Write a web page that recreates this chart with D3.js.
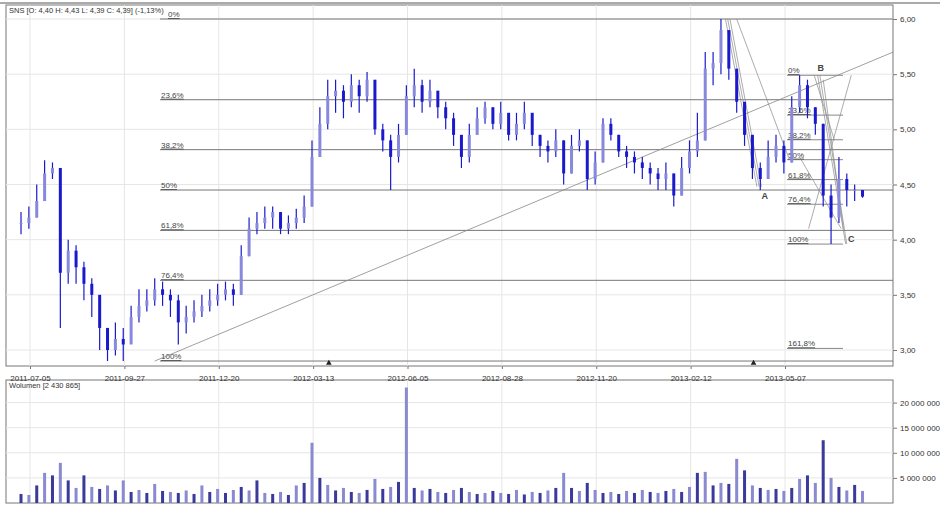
<!DOCTYPE html><html><head><meta charset="utf-8">
<script src="https://cdn.jsdelivr.net/npm/d3@7"></script>
<style>body{margin:0;background:#fff}svg{font-family:"Liberation Sans",Arial,sans-serif}</style></head><body>
<svg id="c" width="940" height="507"></svg>
<script>
const startDate="2011-06-27";
const closes=[4.15,4.20,4.35,4.60,4.65,3.70,3.90,3.75,3.60,3.50,3.20,3.00,3.10,3.05,3.30,3.40,3.45,3.55,3.50,3.45,3.25,3.30,3.35,3.40,3.45,3.50,3.55,3.50,3.85,4.10,4.15,4.20,4.25,4.10,4.15,4.20,4.30,4.75,5.05,5.30,5.35,5.25,5.40,5.30,5.45,5.00,4.90,4.75,4.95,5.30,5.40,5.25,5.35,5.20,5.10,4.95,4.75,4.95,5.10,5.20,5.05,5.15,4.95,5.05,5.15,4.95,4.85,4.80,4.90,4.60,4.85,4.90,4.55,4.70,5.05,4.95,4.80,4.75,4.70,4.65,4.60,4.55,4.60,4.40,4.65,4.80,4.90,5.55,5.60,5.90,5.55,5.25,4.95,4.65,4.55,4.75,4.85,4.70,5.20,5.40,5.20,5.05,4.40,4.20,4.55,4.45,4.45,4.39];
const highs=[4.25,4.30,4.50,4.72,4.70,4.40,4.00,3.95,3.80,3.65,3.45,3.20,3.25,3.20,3.40,3.55,3.55,3.65,3.62,3.55,3.50,3.40,3.45,3.50,3.55,3.60,3.62,3.60,3.95,4.20,4.25,4.30,4.30,4.25,4.22,4.28,4.40,4.90,5.20,5.45,5.45,5.40,5.50,5.45,5.52,5.40,5.05,4.95,5.05,5.40,5.55,5.45,5.45,5.35,5.25,5.15,4.95,5.05,5.20,5.25,5.20,5.25,5.10,5.15,5.25,5.10,4.95,4.90,5.00,4.90,4.95,5.00,4.90,4.80,5.10,5.10,4.95,4.85,4.80,4.75,4.70,4.65,4.70,4.60,4.75,4.90,5.15,5.70,5.70,6.00,5.80,5.40,5.15,4.95,4.70,4.90,4.95,4.90,5.30,5.49,5.45,5.20,5.05,4.50,4.75,4.60,4.50,4.45];
const lows=[4.05,4.10,4.20,4.45,4.55,3.20,3.60,3.60,3.45,3.30,3.00,2.90,2.95,2.90,3.10,3.25,3.35,3.40,3.40,3.30,3.05,3.15,3.25,3.30,3.35,3.40,3.45,3.40,3.50,3.85,4.05,4.10,4.10,4.05,4.05,4.10,4.15,4.30,4.75,5.00,5.15,5.10,5.20,5.15,5.25,4.95,4.80,4.45,4.70,4.95,5.20,5.15,5.20,5.10,5.00,4.85,4.65,4.70,4.95,5.05,5.00,5.00,4.90,4.90,5.00,4.85,4.75,4.70,4.75,4.50,4.60,4.80,4.45,4.50,4.70,4.90,4.75,4.65,4.60,4.55,4.50,4.45,4.45,4.30,4.40,4.60,4.75,4.90,5.40,5.50,5.45,5.15,4.85,4.55,4.45,4.55,4.70,4.60,4.70,5.15,5.10,4.95,4.30,3.96,4.15,4.30,4.35,4.38];
const volumes=[1.8,1.6,3.5,6.0,5.5,8.0,4.5,3.0,5.5,3.2,2.8,3.5,2.5,4.5,2.2,2.6,2.0,3.8,2.4,2.2,2.0,2.5,1.8,3.5,2.2,2.8,2.0,2.6,3.2,2.5,4.5,2.0,1.8,2.2,1.6,3.5,4.0,12.0,5.0,3.6,2.5,3.0,2.2,2.0,2.6,4.8,2.8,3.2,4.2,23.0,3.0,2.5,2.8,2.2,2.0,2.6,3.0,2.2,1.8,2.0,2.4,2.0,1.8,2.6,1.7,2.2,2.0,2.5,3.0,6.0,3.0,2.4,4.0,2.6,2.0,2.2,1.8,2.4,2.0,2.6,2.2,2.0,2.4,2.8,2.2,3.2,6.0,6.2,3.5,4.0,3.8,8.8,6.5,3.5,3.0,2.6,2.8,2.4,3.0,4.8,5.5,4.0,12.5,5.0,3.2,2.5,3.6,2.4];
const priceTicks=[3.00,3.50,4.00,4.50,5.00,5.50,6.00];
const volTicks=[5e6,10e6,15e6,20e6];
const dateTicks=["2011-07-05","2011-09-27","2011-12-20","2012-03-13","2012-06-05","2012-08-28","2012-11-20","2013-02-12","2013-05-07"];
const fibLevels=[0,23.6,38.2,50,61.8,76.4,100];
const fibHigh=6.00, fibLow=2.90;
const fib2Levels=[0,23.6,38.2,50,61.8,76.4,100,161.8];
const fib2High=5.49, fib2Low=3.96;

const svg=d3.select("#c");
const L=6,R=893,T=5,B=366,VT=380,VB=503;
const pd=d3.timeParse("%Y-%m-%d");
const x=d3.scaleTime().domain([pd("2011-07-05"),pd("2013-05-07")]).range([30,785]);
const y=d3.scaleLinear().domain([2.855,6.127]).range([B,T]);
const yv=d3.scaleLinear().domain([0,24.5e6]).range([VB,VT]);
const s0=pd(startDate);
const dates=closes.map((c,i)=>d3.timeDay.offset(s0,7*i));
const fmt=d=>d3.format(".2f")(d).replace(".",",");
const fmtV=d=>d3.format(",")(d).replace(/,/g," ");
[[T,B],[VT,VB]].forEach(([a,b])=>svg.append("rect").attr("x",L).attr("y",a).attr("width",R-L).attr("height",b-a).attr("fill","#fff").attr("stroke","#777"));
svg.append("line").attr("x1",0).attr("x2",940).attr("y1",3).attr("y2",3).attr("stroke","#aaa").attr("stroke-width",2);
const g=svg.append("g").attr("stroke","#e6e6e6");
dateTicks.forEach(d=>{const xx=x(pd(d));g.append("line").attr("x1",xx).attr("x2",xx).attr("y1",T).attr("y2",B);g.append("line").attr("x1",xx).attr("x2",xx).attr("y1",VT).attr("y2",VB);});
priceTicks.forEach(p=>g.append("line").attr("x1",L).attr("x2",R).attr("y1",y(p)).attr("y2",y(p)));
volTicks.forEach(v=>g.append("line").attr("x1",L).attr("x2",R).attr("y1",yv(v)).attr("y2",yv(v)));
const ya=svg.append("g").attr("transform",`translate(${R},0)`).call(d3.axisRight(y).tickValues(priceTicks).tickFormat(fmt).tickSize(4));
const va=svg.append("g").attr("transform",`translate(${R},0)`).call(d3.axisRight(yv).tickValues(volTicks).tickFormat(fmtV).tickSize(4));
const xa=svg.append("g").attr("transform",`translate(0,${B})`).call(d3.axisBottom(x).tickValues(dateTicks.map(pd)).tickFormat(d3.timeFormat("%Y-%m-%d")).tickSize(3));
[ya,va,xa].forEach(a=>{a.select(".domain").remove();a.selectAll("text").attr("font-size",8).attr("fill","#333");a.selectAll("line").attr("stroke","#777");});
xa.selectAll("text").attr("dy","1.1em");
const fl=svg.append("g");
fibLevels.forEach(p=>{const v=fibHigh-(fibHigh-fibLow)*p/100;fl.append("line").attr("x1",160).attr("x2",R).attr("y1",y(v)).attr("y2",y(v)).attr("stroke","#777");
fl.append("text").attr("x",p===0?168:161).attr("y",y(v)-2).attr("font-size",8).attr("fill","#444").attr("text-decoration","underline").text((p+"").replace(".",",")+"%");});
svg.append("line").attr("x1",x(pd("2011-10-24"))).attr("y1",y(2.90)).attr("x2",R).attr("y2",y(5.70)).attr("stroke","#888").attr("stroke-width",0.8);
const f2=svg.append("g");
fib2Levels.forEach(p=>{const v=fib2High-(fib2High-fib2Low)*p/100;f2.append("line").attr("x1",787).attr("x2",843).attr("y1",y(v)).attr("y2",y(v)).attr("stroke","#888");
f2.append("text").attr("x",788).attr("y",y(v)-2).attr("font-size",8).attr("fill","#444").attr("text-decoration","underline").text((p+"").replace(".",",")+"%");});
const fans=[[["2013-03-15",6.0],["2013-04-12",4.48]],[["2013-03-17",6.0],["2013-04-14",4.48]],[["2013-03-19",6.0],["2013-04-16",4.48]],[["2013-03-25",6.0],["2013-05-10",4.75]],
[["2013-06-05",5.49],["2013-06-30",3.96]],[["2013-06-07",5.49],["2013-07-01",3.96]],[["2013-06-10",5.45],["2013-06-28",4.10]],[["2013-05-28",4.10],["2013-07-05",5.49]],[["2013-05-20",4.75],["2013-06-26",4.10]],[["2013-06-20",4.90],["2013-06-02",5.49]]];
fans.forEach(f=>svg.append("line").attr("x1",x(pd(f[0][0]))).attr("y1",y(f[0][1])).attr("x2",x(pd(f[1][0]))).attr("y2",y(f[1][1])).attr("stroke","#888").attr("stroke-width",0.7));
[["A","2013-04-16",4.37],["B","2013-06-05",5.53],["C","2013-07-02",3.98]].forEach(a=>svg.append("text").attr("x",x(pd(a[1]))).attr("y",y(a[2])).attr("font-size",9).attr("font-weight","bold").attr("fill","#444").text(a[0]));
const cg=svg.append("g").attr("stroke","#1a1acc").attr("stroke-width",1.2);
closes.forEach((c,i)=>{const xx=x(dates[i]);const o=i?closes[i-1]:c;
cg.append("line").attr("x1",xx).attr("x2",xx).attr("y1",y(highs[i])).attr("y2",y(lows[i]));
cg.append("rect").attr("x",xx-1.5).attr("width",3).attr("y",y(Math.max(o,c))).attr("height",Math.max(1,Math.abs(y(o)-y(c)))).attr("fill",c>=o?"#8888dd":"#1a1acc").attr("stroke","none");});
["2012-03-27","2013-04-09"].forEach(d=>svg.append("path").attr("d",d3.symbol(d3.symbolTriangle,14)()).attr("transform",`translate(${x(pd(d))},${B-3})`).attr("fill","#222"));
const vg=svg.append("g");
volumes.forEach((v,i)=>{const xx=x(dates[i]);vg.append("rect").attr("x",xx-1.5).attr("width",3).attr("y",yv(v*1e6)).attr("height",VB-yv(v*1e6)).attr("fill",i%2?"#8a8ad0":"#3a3a9a");});
svg.append("text").attr("x",9).attr("y",13).attr("font-size",7.5).attr("fill","#333").text("SNS [O: 4,40  H: 4,43  L: 4,39  C: 4,39] (-1,13%)");
svg.append("text").attr("x",9).attr("y",388).attr("font-size",7.5).attr("fill","#333").text("Wolumen [2 430 865]");
</script></body></html>
